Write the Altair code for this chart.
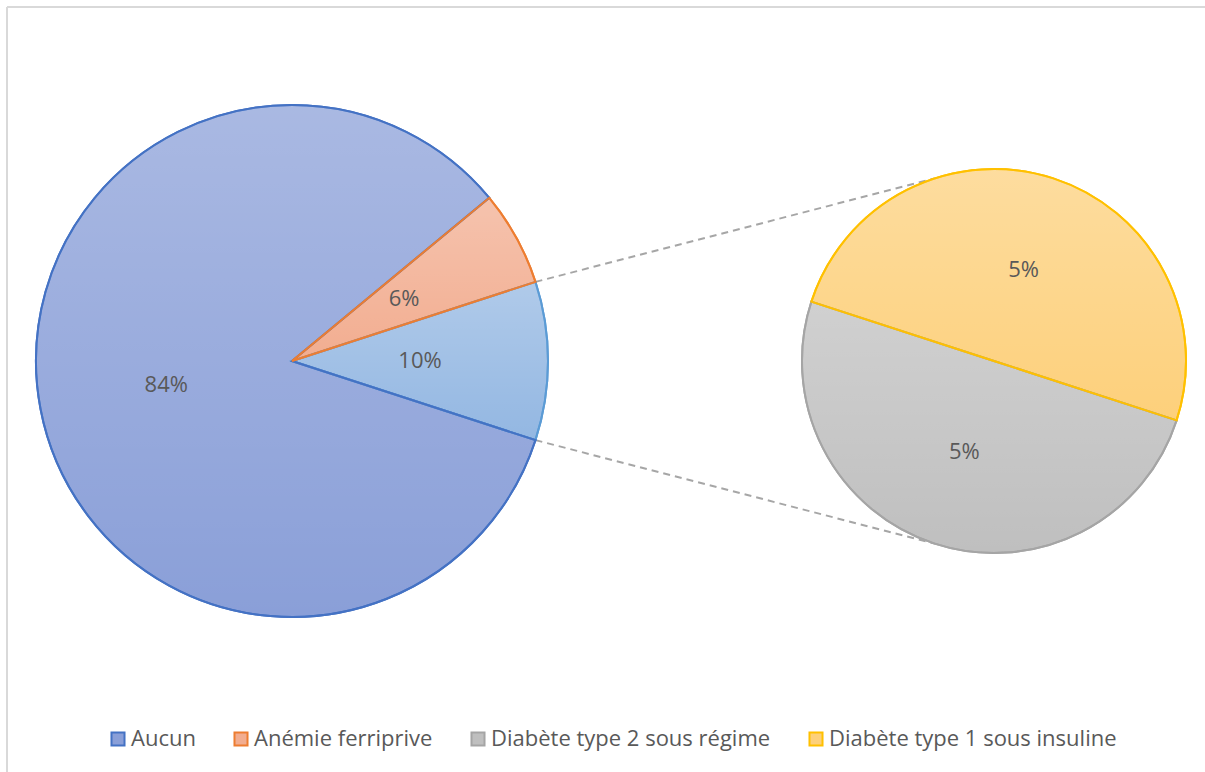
import math

import altair as alt
import pandas as pd

# Share of patients (%) per condition
main_labels = ["Aucun", "Anémie ferriprive"]
main_values = [84, 6]
detail_labels = ["Diabète type 2 sous régime", "Diabète type 1 sous insuline"]
detail_values = [5, 5]
other_label = "Diabète"  # aggregated slice of the main pie, split in the second pie

legend_order = main_labels + detail_labels
cat_domain = legend_order + [other_label]
fill_colors = ["#8a9fd8", "#f2ad90", "#bfbfbf", "#fdd07b", "#93b7e2"]
stroke_colors = ["#4472c4", "#ed7d31", "#a5a5a5", "#ffc000", "#5b9bd5"]

# Layout
W, H = 1205, 772
MAIN_CX, MAIN_CY, MAIN_R = 292, 361, 256
SUB_CX, SUB_CY, SUB_R = 994, 361, 192
FONT = "Open Sans"
TEXT_COLOR = "#595959"
LABEL_SIZE = 22

other_value = sum(detail_values)
main_total = sum(main_values) + other_value
sub_total = sum(detail_values)
half = math.pi * other_value / main_total          # half opening of the aggregated slice
main_start = math.pi / 2 - half                    # aggregated slice centred at 3 o'clock
sub_start = math.pi / 2 + half

main_df = pd.DataFrame({
    "cat": [other_label] + main_labels,
    "value": [other_value] + main_values,
    "order": [0, 1, 2],
})
sub_df = pd.DataFrame({
    "cat": detail_labels,
    "value": detail_values,
    "order": [0, 1],
})


def polar(cx, cy, r, t):
    return cx + r * math.sin(t), cy - r * math.cos(t)


# Dashed connectors between the aggregated slice and the detail pie
p1 = polar(MAIN_CX, MAIN_CY, MAIN_R, main_start)
p2 = polar(MAIN_CX, MAIN_CY, MAIN_R, main_start + 2 * half)
q1 = polar(SUB_CX, SUB_CY, SUB_R, -half)
q2 = polar(SUB_CX, SUB_CY, SUB_R, math.pi + half)
conn_df = pd.DataFrame({
    "x": [p1[0], p2[0]], "y": [p1[1], p2[1]],
    "x2": [q1[0], q2[0]], "y2": [q1[1], q2[1]],
})

legend_spec = alt.Legend(
    title=None, orient="none", legendX=107, legendY=728, direction="horizontal",
    values=legend_order, symbolType="square", symbolSize=170, symbolStrokeWidth=2,
    labelFont=FONT, labelFontSize=LABEL_SIZE, labelColor=TEXT_COLOR, labelOffset=2,
    labelLimit=500, columnPadding=34,
)
fill_enc = alt.Fill("cat:N", scale=alt.Scale(domain=cat_domain, range=fill_colors), legend=legend_spec)
stroke_enc = alt.Stroke("cat:N", scale=alt.Scale(domain=cat_domain, range=stroke_colors), legend=legend_spec)
stroke_only = alt.Stroke("cat:N", scale=alt.Scale(domain=cat_domain, range=stroke_colors), legend=None)

shade = alt.Gradient(
    gradient="linear",
    stops=[alt.GradientStop(color="rgba(255,255,255,0.27)", offset=0),
           alt.GradientStop(color="rgba(255,255,255,0)", offset=1)],
    x1=0, x2=0, y1=0, y2=1,
)


def pie(df, cx, cy, r, start, total):
    tscale = alt.Scale(domain=[0, total], range=[start, start + 2 * math.pi])
    base = alt.Chart(df).transform_stack(
        stack="value", groupby=[], as_=["v0", "v1"], sort=[alt.SortField("order", order="ascending")]
    )
    pos = dict(x=alt.value(cx), y=alt.value(cy),
               theta=alt.Theta("v0:Q", scale=tscale), theta2="v1:Q")
    body = base.mark_arc(radius=r, strokeWidth=2).encode(fill=fill_enc, stroke=stroke_enc, **pos)
    gloss = base.mark_arc(radius=r, fill=shade, strokeWidth=0).encode(**pos)
    edge = base.mark_arc(radius=r, fillOpacity=0, strokeWidth=2).encode(stroke=stroke_only, **pos)
    labels = base.transform_calculate(
        mid="(datum.v0 + datum.v1) / 2", pct="datum.value / 100"
    ).mark_text(radius=r / 2, font=FONT, fontSize=LABEL_SIZE, color=TEXT_COLOR,
                align="center", baseline="middle").encode(
        x=alt.value(cx), y=alt.value(cy),
        theta=alt.Theta("mid:Q", scale=tscale),
        text=alt.Text("pct:Q", format=".0%"),
    )
    return [body, gloss, edge], labels


one = pd.DataFrame({"k": [0]})
frame_top = alt.Chart(one).mark_rule(color="#d9d9d9", strokeWidth=2).encode(
    x=alt.value(7), x2=alt.value(W), y=alt.value(7))
frame_left = alt.Chart(one).mark_rule(color="#d9d9d9", strokeWidth=2).encode(
    x=alt.value(7), y=alt.value(7), y2=alt.value(H))

connectors = alt.Chart(conn_df).mark_rule(color="#a6a6a6", strokeWidth=2, strokeDash=[7, 5]).encode(
    x=alt.X("x:Q", scale=None, axis=None), y=alt.Y("y:Q", scale=None, axis=None),
    x2="x2:Q", y2="y2:Q",
)

main_arcs, main_text = pie(main_df, MAIN_CX, MAIN_CY, MAIN_R, main_start, main_total)
sub_arcs, sub_text = pie(sub_df, SUB_CX, SUB_CY, SUB_R, sub_start, sub_total)

chart = alt.layer(
    frame_top, frame_left, connectors, *main_arcs, *sub_arcs, main_text, sub_text
).resolve_scale(theta="independent").properties(
    width=W, height=H, padding=0, autosize=alt.AutoSizeParams(type="none"), background="white"
).configure_view(stroke=None)

chart.save("out.html", embed_options={"renderer": "svg", "actions": False})
